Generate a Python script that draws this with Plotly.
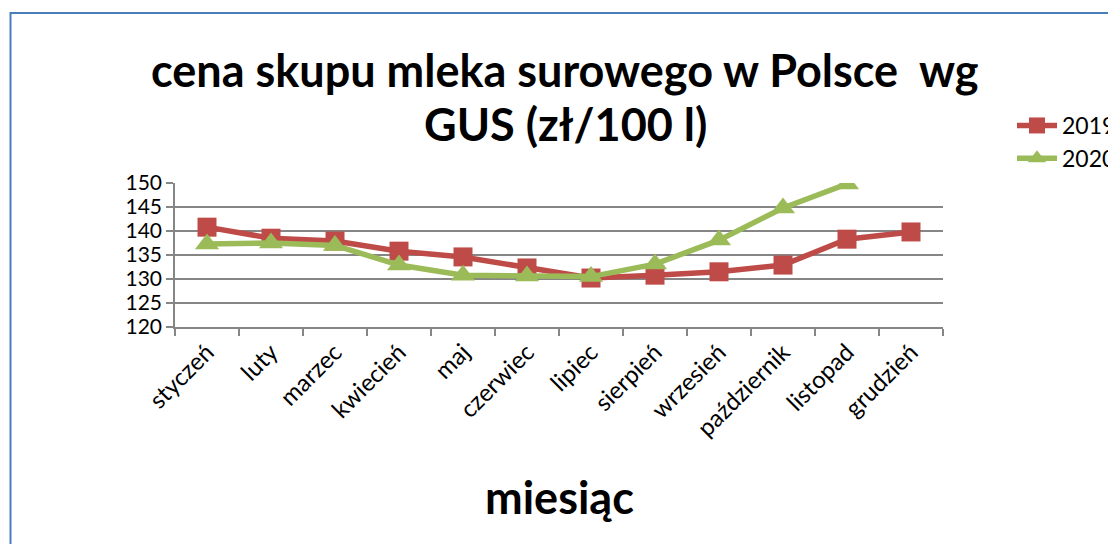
import plotly.graph_objects as go

months = ["styczeń", "luty", "marzec", "kwiecień", "maj", "czerwiec", "lipiec",
          "sierpień", "wrzesień", "październik", "listopad", "grudzień"]
values_2019 = [140.8, 138.5, 137.9, 135.8, 134.6, 132.3, 130.2, 130.8, 131.5, 132.9, 138.3, 139.8]
values_2020 = [137.3, 137.5, 137.0, 132.9, 130.8, 130.6, 130.5, 133.1, 138.1, 144.8, 149.8]
y_ticks = [120, 125, 130, 135, 140, 145, 150]

W, H = 1108, 544
L, R, T, B = 175, 1108 - 943, 183, 544 - 327
PW, PH = W - L - R, H - T - B

def px_x(px):
    return (px - L) / PW

def px_y(py):
    return (H - B - py) / PH

FONT = "Lato, Carlito, Calibri, sans-serif"
BORDER = "#4a7ebb"

fig = go.Figure()
fig.add_trace(go.Scatter(
    x=months, y=values_2019, name="2019", mode="lines+markers",
    line=dict(color="#be4b48", width=5.5),
    marker=dict(symbol="square", size=19, color="#be4b48"),
))
fig.add_trace(go.Scatter(
    x=months[:len(values_2020)], y=values_2020, name="2020", mode="lines+markers",
    line=dict(color="#9bbb59", width=5.5),
    marker=dict(symbol="triangle-up", size=21, color="#9bbb59"),
))

fig.update_layout(
    width=W, height=H,
    margin=dict(l=L, r=R, t=T, b=B, pad=0, autoexpand=False),
    paper_bgcolor="white", plot_bgcolor="white",
    font=dict(family=FONT, color="black"),
    showlegend=True,
    legend=dict(x=px_x(1012), y=px_y(104), xanchor="left", yanchor="top",
                font=dict(size=23, family=FONT), bgcolor="rgba(0,0,0,0)",
                tracegroupgap=0, itemwidth=40),
    xaxis=dict(
        type="category", showgrid=False, showline=True, linecolor="#868686", linewidth=1.5,
        ticks="outside", ticklen=7, tickcolor="#868686", tickwidth=1.5,
        tickson="boundaries", tickangle=-45, tickfont=dict(size=24, family=FONT),
        range=[-0.5, 11.5], automargin=False,
    ),
    yaxis=dict(
        range=[120, 150], tickvals=y_ticks, showgrid=True, gridcolor="#868686", gridwidth=1.5,
        showline=True, linecolor="#868686", linewidth=1.5,
        ticks="outside", ticklen=7, tickcolor="#868686", tickwidth=1.5,
        tickfont=dict(size=21, family=FONT), zeroline=False, automargin=False,
    ),
    annotations=[
        dict(text="<b>cena skupu mleka surowego w Polsce  wg</b>", x=px_x(565), y=px_y(70),
             xref="paper", yref="paper", showarrow=False, xanchor="center", yanchor="middle",
             font=dict(size=45, family=FONT)),
        dict(text="<b>GUS (zł/100 l)</b>", x=px_x(565), y=px_y(124),
             xref="paper", yref="paper", showarrow=False, xanchor="center", yanchor="middle",
             font=dict(size=45, family=FONT)),
        dict(text="<b>miesiąc</b>", x=px_x(559), y=px_y(497),
             xref="paper", yref="paper", showarrow=False, xanchor="center", yanchor="middle",
             font=dict(size=45, family=FONT)),
    ],
    shapes=[
        dict(type="line", xref="paper", yref="paper",
             x0=px_x(10), x1=px_x(1120), y0=px_y(13), y1=px_y(13),
             line=dict(color=BORDER, width=2)),
        dict(type="line", xref="paper", yref="paper",
             x0=px_x(10.5), x1=px_x(10.5), y0=px_y(12), y1=px_y(560),
             line=dict(color=BORDER, width=2)),
    ],
)

fig.write_html("out.html", config={"displayModeBar": False},
               post_script="document.body.style.margin='0';document.body.style.padding='0';")
